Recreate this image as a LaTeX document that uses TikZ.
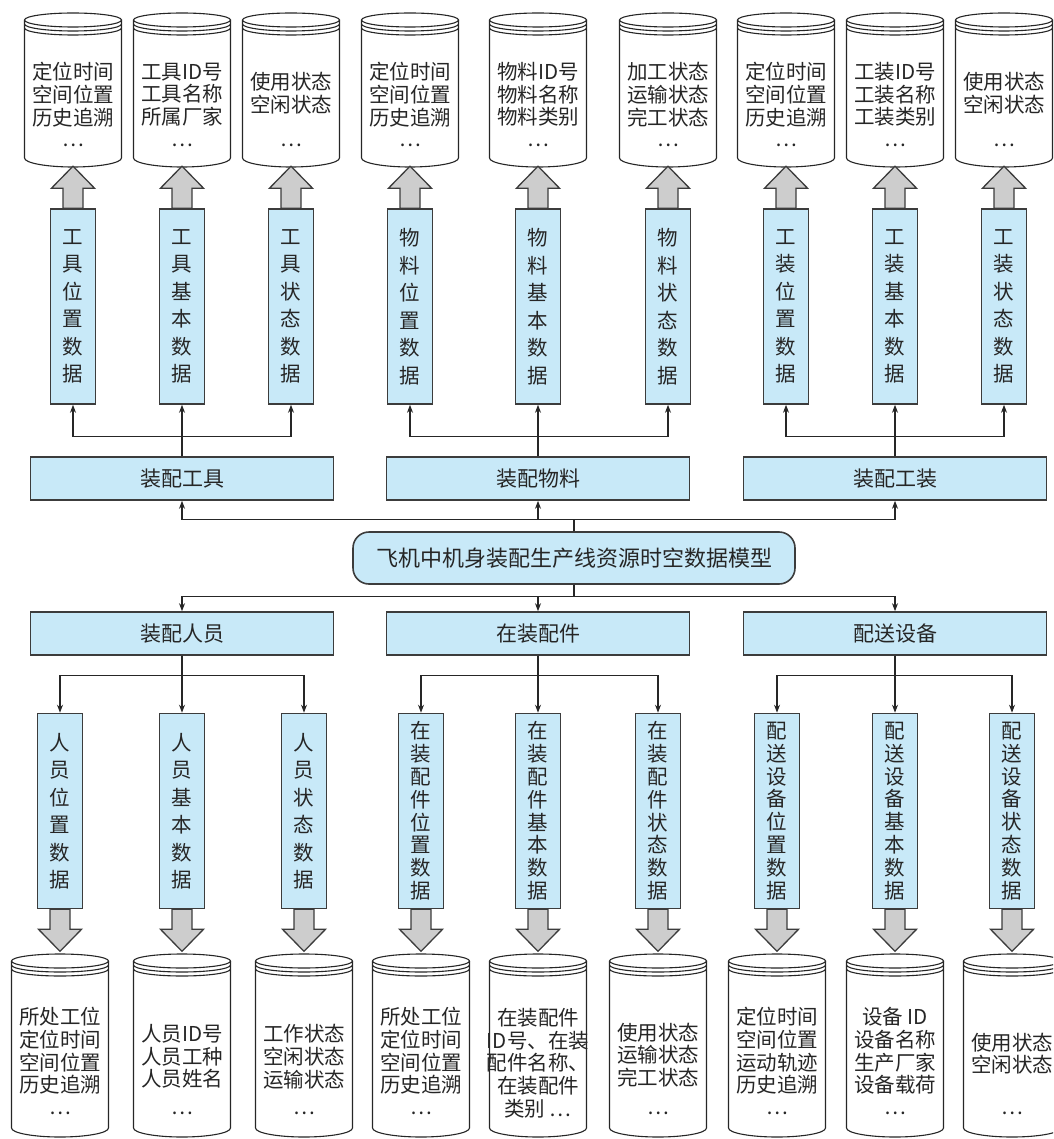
\documentclass[tikz,border=0pt]{standalone}
\usepackage{fontspec}
\setmainfont{Noto Sans CJK SC}
\usetikzlibrary{arrows.meta}

\definecolor{boxblue}{RGB}{200,233,248}
\definecolor{edgegray}{RGB}{60,60,60}
\definecolor{fatgray}{RGB}{205,205,205}

\begin{document}
\begin{tikzpicture}[
  x=1pt, y=1pt,
  font=\fontsize{21}{24}\selectfont,
  >={Stealth[length=8pt,width=6pt]},
  link/.style={->, line width=1.1pt, draw=black!85},
  groupbox/.style={rectangle, draw=edgegray, line width=1.6pt, fill=boxblue, minimum width=303pt, minimum height=43pt, text=black!85},
  modelbox/.style={groupbox, rounded corners=16pt, minimum width=442pt, minimum height=52pt, font=\fontsize{22}{24}\selectfont},
  databox/.style={rectangle, draw=edgegray, line width=1.6pt, fill=boxblue, minimum width=45pt, minimum height=195pt, inner sep=0pt, align=center, text=black!85},
  tallbox/.style={databox, font=\fontsize{20.5}{27.5}\selectfont},
  longbox/.style={databox, font=\fontsize{20.5}{22.8}\selectfont},
  storetext/.style={align=center, inner sep=0pt, font=\fontsize{20.5}{22.7}\selectfont, text=black!85},
  dots/.style={inner sep=0pt, font=\fontsize{20.5}{22.7}\selectfont, text=black!85},
  storeline/.style={line width=1.1pt, draw=black!85},
  fatarrow/.style={draw=edgegray, line width=1.3pt, fill=fatgray, line join=miter},
  store/.pic={
    \draw[storeline, fill=white] (-48.5,0) -- (-48.5,-#1)
      arc[start angle=180, end angle=360, x radius=48.5, y radius=9] -- (48.5,0);
    \draw[storeline, fill=white] (0,0) ellipse[x radius=48.5, y radius=7];
    \draw[storeline] (-48.5,-4) arc[start angle=180, end angle=360, x radius=48.5, y radius=7];
    \draw[storeline] (-48.5,-8) arc[start angle=180, end angle=360, x radius=48.5, y radius=7];
  },
  fatup/.pic={
    \draw[fatarrow] (-10,0) -- (-10,20) -- (-21.5,20) -- (0,42) -- (21.5,20) -- (10,20) -- (10,0) -- cycle;
  }
]
\useasboundingbox (0,0) rectangle (1053,-1139);
\clip (0,0) rectangle (1053,-1139);

% Central model and the six resource groups.
\node[modelbox] (model) at (574,-558) {飞机中机身装配生产线资源时空数据模型};
\node[groupbox] (tool) at (182,-478.5) {装配工具};
\node[groupbox] (material) at (538,-478.5) {装配物料};
\node[groupbox] (fixture) at (895,-478.5) {装配工装};
\node[groupbox] (staff) at (182,-633.5) {装配人员};
\node[groupbox] (part) at (538,-633.5) {在装配件};
\node[groupbox] (carrier) at (895,-633.5) {配送设备};

\draw[link] (model.north) -- ++(0,12) -| (tool.south);
\draw[link] (model.north) -- ++(0,12) -| (material.south);
\draw[link] (model.north) -- ++(0,12) -| (fixture.south);
\draw[link] (model.south) -- ++(0,-12) -| (staff.north);
\draw[link] (model.south) -- ++(0,-12) -| (part.north);
\draw[link] (model.south) -- ++(0,-12) -| (carrier.north);

% Upper data columns.
\node[tallbox] (toolpos) at (73,-306.5) {工\\具\\位\\置\\数\\据};
\node[tallbox] (toolbase) at (182,-306.5) {工\\具\\基\\本\\数\\据};
\node[tallbox] (toolstate) at (291,-306.5) {工\\具\\状\\态\\数\\据};
\node[tallbox] (matpos) at (410,-306.5) {物\\料\\位\\置\\数\\据};
\node[tallbox] (matbase) at (538,-306.5) {物\\料\\基\\本\\数\\据};
\node[tallbox] (matstate) at (668,-306.5) {物\\料\\状\\态\\数\\据};
\node[tallbox] (fixpos) at (786,-306.5) {工\\装\\位\\置\\数\\据};
\node[tallbox] (fixbase) at (895,-306.5) {工\\装\\基\\本\\数\\据};
\node[tallbox] (fixstate) at (1004,-306.5) {工\\装\\状\\态\\数\\据};

\draw[link] (tool.north) -- ++(0,20) -| (toolpos.south);
\draw[link] (tool.north) -- (toolbase.south);
\draw[link] (tool.north) -- ++(0,20) -| (toolstate.south);
\draw[link] (material.north) -- ++(0,20) -| (matpos.south);
\draw[link] (material.north) -- (matbase.south);
\draw[link] (material.north) -- ++(0,20) -| (matstate.south);
\draw[link] (fixture.north) -- ++(0,20) -| (fixpos.south);
\draw[link] (fixture.north) -- (fixbase.south);
\draw[link] (fixture.north) -- ++(0,20) -| (fixstate.south);

% Upper stores.
\pic at (73,-20) {store=138};
\node[storetext] (toolposdb) at (73,-94.5) {定位时间\\空间位置\\历史追溯};
\node[dots] (toolposdots) at (73,-145) {…};
\pic at (182,-20) {store=138};
\node[storetext] (toolbasedb) at (182,-94.5) {工具ID号\\工具名称\\所属厂家};
\node[dots] (toolbasedots) at (182,-145) {…};
\pic at (291,-20) {store=138};
\node[storetext] (toolstatedb) at (291,-93) {使用状态\\空闲状态};
\node[dots] (toolstatedots) at (291,-145) {…};
\pic at (410,-20) {store=138};
\node[storetext] (matposdb) at (410,-94.5) {定位时间\\空间位置\\历史追溯};
\node[dots] (matposdots) at (410,-145) {…};
\pic at (538,-20) {store=138};
\node[storetext] (matbasedb) at (538,-94.5) {物料ID号\\物料名称\\物料类别};
\node[dots] (matbasedots) at (538,-145) {…};
\pic at (668,-20) {store=138};
\node[storetext] (matstatedb) at (668,-94.5) {加工状态\\运输状态\\完工状态};
\node[dots] (matstatedots) at (668,-145) {…};
\pic at (786,-20) {store=138};
\node[storetext] (fixposdb) at (786,-94.5) {定位时间\\空间位置\\历史追溯};
\node[dots] (fixposdots) at (786,-145) {…};
\pic at (895,-20) {store=138};
\node[storetext] (fixbasedb) at (895,-94.5) {工装ID号\\工装名称\\工装类别};
\node[dots] (fixbasedots) at (895,-145) {…};
\pic at (1004,-20) {store=138};
\node[storetext] (fixstatedb) at (1004,-93) {使用状态\\空闲状态};
\node[dots] (fixstatedots) at (1004,-145) {…};

\pic at (toolpos.north) {fatup};
\pic at (toolbase.north) {fatup};
\pic at (toolstate.north) {fatup};
\pic at (matpos.north) {fatup};
\pic at (matbase.north) {fatup};
\pic at (matstate.north) {fatup};
\pic at (fixpos.north) {fatup};
\pic at (fixbase.north) {fatup};
\pic at (fixstate.north) {fatup};

% Lower data columns.
\node[tallbox] (staffpos) at (60,-811) {人\\员\\位\\置\\数\\据};
\node[tallbox] (staffbase) at (182,-811) {人\\员\\基\\本\\数\\据};
\node[tallbox] (staffstate) at (304,-811) {人\\员\\状\\态\\数\\据};
\node[longbox] (partpos) at (421,-811) {在\\装\\配\\件\\位\\置\\数\\据};
\node[longbox] (partbase) at (538,-811) {在\\装\\配\\件\\基\\本\\数\\据};
\node[longbox] (partstate) at (658,-811) {在\\装\\配\\件\\状\\态\\数\\据};
\node[longbox] (carpos) at (777,-811) {配\\送\\设\\备\\位\\置\\数\\据};
\node[longbox] (carbase) at (895,-811) {配\\送\\设\\备\\基\\本\\数\\据};
\node[longbox] (carstate) at (1012,-811) {配\\送\\设\\备\\状\\态\\数\\据};

\draw[link] (staff.south) -- ++(0,-20) -| (staffpos.north);
\draw[link] (staff.south) -- (staffbase.north);
\draw[link] (staff.south) -- ++(0,-20) -| (staffstate.north);
\draw[link] (part.south) -- ++(0,-20) -| (partpos.north);
\draw[link] (part.south) -- (partbase.north);
\draw[link] (part.south) -- ++(0,-20) -| (partstate.north);
\draw[link] (carrier.south) -- ++(0,-20) -| (carpos.north);
\draw[link] (carrier.south) -- (carbase.north);
\draw[link] (carrier.south) -- ++(0,-20) -| (carstate.north);

% Lower stores.
\pic at (60,-961) {store=167};
\node[storetext] (staffposdb) at (60,-1051) {所处工位\\定位时间\\空间位置\\历史追溯};
\node[dots] (staffposdots) at (60,-1113) {…};
\pic at (182,-961) {store=167};
\node[storetext] (staffbasedb) at (182,-1056.5) {人员ID号\\人员工种\\人员姓名};
\node[dots] (staffbasedots) at (182,-1113) {…};
\pic at (304,-961) {store=167};
\node[storetext] (staffstatedb) at (304,-1056.5) {工作状态\\空闲状态\\运输状态};
\node[dots] (staffstatedots) at (304,-1113) {…};
\pic at (421,-961) {store=167};
\node[storetext] (partposdb) at (421,-1051) {所处工位\\定位时间\\空间位置\\历史追溯};
\node[dots] (partposdots) at (421,-1113) {…};
\pic at (538,-961) {store=167};
\node[storetext] (partbasedb) at (538,-1063) {在装配件\\ID号、在装\\配件名称、\\在装配件\\类别 …};
\pic at (658,-961) {store=167};
\node[storetext] (partstatedb) at (658,-1055) {使用状态\\运输状态\\完工状态};
\node[dots] (partstatedots) at (658,-1113) {…};
\pic at (777,-961) {store=167};
\node[storetext] (carposdb) at (777,-1051) {定位时间\\空间位置\\运动轨迹\\历史追溯};
\node[dots] (carposdots) at (777,-1113) {…};
\pic at (895,-961) {store=167};
\node[storetext] (carbasedb) at (895,-1051) {设备 ID\\设备名称\\生产厂家\\设备载荷};
\node[dots] (carbasedots) at (895,-1113) {…};
\pic at (1012,-961) {store=167};
\node[storetext] (carstatedb) at (1012,-1053.5) {使用状态\\空闲状态};
\node[dots] (carstatedots) at (1012,-1113) {…};

\pic[rotate=180] at (staffpos.south) {fatup};
\pic[rotate=180] at (staffbase.south) {fatup};
\pic[rotate=180] at (staffstate.south) {fatup};
\pic[rotate=180] at (partpos.south) {fatup};
\pic[rotate=180] at (partbase.south) {fatup};
\pic[rotate=180] at (partstate.south) {fatup};
\pic[rotate=180] at (carpos.south) {fatup};
\pic[rotate=180] at (carbase.south) {fatup};
\pic[rotate=180] at (carstate.south) {fatup};

\end{tikzpicture}
\end{document}
